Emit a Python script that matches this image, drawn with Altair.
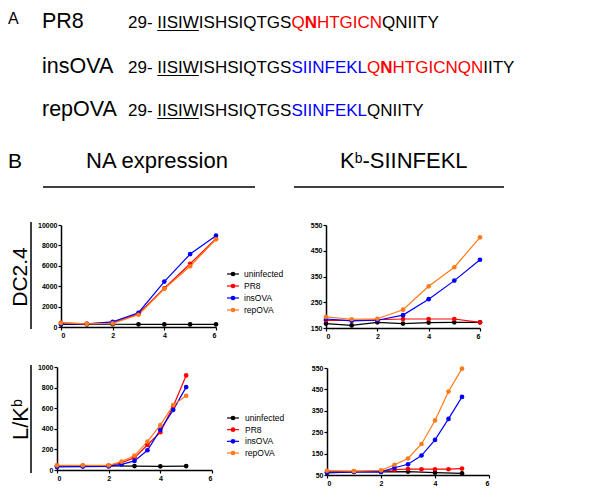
import altair as alt
import pandas as pd

FONT = "Liberation Sans"
SERIES = ["uninfected", "PR8", "insOVA", "repOVA"]
COLORS = ["#000000", "#ff0000", "#0000ff", "#ff7a1a"]

# ---- data ----
days_top = [0, 1, 2, 3, 4, 5, 6]
days_bot = [0, 1, 2, 2.5, 3, 3.5, 4, 4.5, 5]
days_bot_uninf = [0, 1, 2, 3, 4, 5]

na_dc_uninf = [250, 260, 270, 260, 250, 250, 260]
na_dc_pr8 = [400, 300, 400, 1300, 3800, 6200, 8650]
na_dc_ins = [300, 300, 500, 1400, 4450, 7150, 8950]
na_dc_rep = [400, 300, 350, 1200, 3750, 5950, 8600]

kb_dc_uninf = [167, 160, 172, 167, 171, 172, 172]
kb_dc_pr8 = [180, 180, 182, 185, 185, 185, 172]
kb_dc_ins = [185, 178, 180, 200, 262, 334, 415]
kb_dc_rep = [193, 184, 186, 221, 312, 386, 502]

na_lk_uninf = [40, 40, 40, 38, 36, 38]
na_lk_pr8 = [40, 40, 40, 70, 120, 243, 367, 620, 918]
na_lk_ins = [30, 33, 35, 55, 88, 192, 390, 584, 805]
na_lk_rep = [45, 45, 45, 81, 140, 276, 435, 630, 721]

kb_lk_uninf = [60, 65, 65, 66, 61, 58]
kb_lk_pr8 = [65, 67, 68, 75, 78, 77, 77, 77, 80]
kb_lk_ins = [62, 65, 65, 84, 100, 141, 214, 312, 415]
kb_lk_rep = [70, 68, 72, 98, 127, 195, 305, 440, 547]

x_ticks = [0, 2, 4, 6]
yt_na_dc = [0, 2000, 4000, 6000, 8000, 10000]
yt_kb_dc = [150, 250, 350, 450, 550]
yt_na_lk = [0, 200, 400, 600, 800, 1000]
yt_kb_lk = [50, 150, 250, 350, 450, 550]

# sequences: (text, colour, weight, underline)
K, R, B = "black", "#ff0000", "#0000ff"
seq_pr8 = [("29- ", K, "normal", False), ("IISIW", K, "normal", True), ("ISHSIQTGS", K, "normal", False),
           ("Q", R, "normal", False), ("N", R, "bold", False), ("HTGICN", R, "normal", False),
           ("QNIITY", K, "normal", False)]
seq_ins = [("29- ", K, "normal", False), ("IISIW", K, "normal", True), ("ISHSIQTGS", K, "normal", False),
           ("SIINFEKL", B, "normal", False), ("Q", R, "normal", False), ("N", R, "bold", False),
           ("HTGICNQN", R, "normal", False), ("IITY", K, "normal", False)]
seq_rep = [("29- ", K, "normal", False), ("IISIW", K, "normal", True), ("ISHSIQTGS", K, "normal", False),
           ("SIINFEKL", B, "normal", False), ("QNIITY", K, "normal", False)]
virus_names = ["PR8", "insOVA", "repOVA"]

W, H = 586, 477

# Arial / Liberation Sans advance widths (per 1000 em)
ADV = {'2': 556, '9': 556, '-': 333, ' ': 278, 'I': 278, 'S': 667, 'W': 944, 'H': 722, 'Q': 778,
       'T': 611, 'G': 778, 'N': 722, 'C': 722, 'F': 611, 'E': 667, 'K': 667, 'L': 556, 'Y': 667,
       '/': 278, 'b': 556}


def tw(s, size):
    return sum(ADV.get(c, 600) for c in s) * size / 1000.0


def txt(s, x, y, size, color="black", weight="normal", align="left", baseline="alphabetic", angle=0):
    return alt.Chart(pd.DataFrame({"t": [s]})).mark_text(
        align=align, baseline=baseline, fontSize=size, font=FONT, color=color,
        fontWeight=weight, angle=angle).encode(text="t:N", x=alt.value(x), y=alt.value(y))


def hline(x1, x2, y, w=1.5):
    return alt.Chart(pd.DataFrame({"a": [0]})).mark_rule(color="black", strokeWidth=w).encode(
        x=alt.value(x1), x2=alt.value(x2), y=alt.value(y))


def vline(x, y1, y2, w=1.5):
    return alt.Chart(pd.DataFrame({"a": [0]})).mark_rule(color="black", strokeWidth=w).encode(
        x=alt.value(x), y=alt.value(y1), y2=alt.value(y2))


def make_df(days_u, days_o, vals):
    rows = []
    for s, v in zip(SERIES, vals):
        dd = days_u if s == "uninfected" else days_o
        for d, val in zip(dd, v):
            rows.append({"day": d, "value": val, "series": s})
    return pd.DataFrame(rows)


def panel(df, xr, yr, ydom, yticks):
    ax_style = dict(labelFontSize=7, labelFontWeight="bold", labelFont=FONT, labelColor="black",
                    domainColor="black", domainWidth=1.5, tickColor="black", tickWidth=1.2,
                    tickSize=3, grid=False, title=None, labelPadding=1)
    x = alt.X("day:Q", scale=alt.Scale(domain=[0, 6], range=xr, nice=False, zero=False),
              axis=alt.Axis(orient="bottom", offset=yr[0] - H, values=x_ticks, format="d", **ax_style))
    y = alt.Y("value:Q", scale=alt.Scale(domain=ydom, range=yr, nice=False, zero=False),
              axis=alt.Axis(orient="left", offset=-xr[0], values=yticks, format="d", **ax_style))
    color = alt.Color("series:N", scale=alt.Scale(domain=SERIES, range=COLORS), legend=None)
    base = alt.Chart(df)
    lines = base.mark_line(strokeWidth=1.2).encode(x=x, y=y, color=color, order="day:Q")
    pts = base.mark_point(filled=True, size=22, opacity=1).encode(x=x, y=y, color=color)
    return alt.layer(lines, pts)


def legend(yr, xs, xp, xe, xt):
    ldf = pd.DataFrame({"series": SERIES})
    y = alt.Y("series:N", scale=alt.Scale(type="point", domain=SERIES, range=yr, padding=0), axis=None)
    color = alt.Color("series:N", scale=alt.Scale(domain=SERIES, range=COLORS), legend=None)
    base = alt.Chart(ldf)
    r = base.mark_rule(strokeWidth=1.2).encode(x=alt.value(xs), x2=alt.value(xe), y=y, color=color)
    p = base.mark_point(filled=True, size=22, opacity=1).encode(x=alt.value(xp), y=y, color=color)
    t = base.mark_text(align="left", baseline="middle", fontSize=8.5, font=FONT, color="black").encode(
        x=alt.value(xt), y=y, text="series:N")
    return alt.layer(r, p, t)


layers = []

# ---- panel A ----
layers.append(txt("A", 0, 16, 16))
row_base = [20, 65, 108]
for name, yb, seq in zip(virus_names, row_base, [seq_pr8, seq_ins, seq_rep]):
    layers.append(txt(name, 34, yb, 21.5))
    xpos = 120.0
    for s, col, wt, ul in seq:
        layers.append(txt(s, xpos, yb, 17, color=col, weight=wt))
        w = tw(s, 17)
        if ul:
            layers.append(hline(xpos, xpos + w, yb + 2.5, w=1.2))
        xpos += w

# ---- panel B headers ----
layers.append(txt("B", 0, 160, 21))
layers.append(txt("NA expression", 149, 160, 22, align="center"))
layers.append(hline(35, 247, 179))
kx = 332
layers.append(txt("K", kx, 160, 22))
layers.append(txt("b", kx + tw("K", 22), 155, 14))
layers.append(txt("-SIINFEKL", kx + tw("K", 22) + tw("b", 14), 160, 22))
layers.append(hline(286, 496, 179))

# y labels
layers.append(vline(23, 214, 321))
layers.append(txt("DC2.4", 19, 269, 21, align="center", angle=270))
layers.append(vline(23, 357, 465))
layers.append(txt("L/K", 20, 432, 22, angle=270))
layers.append(txt("b", 14, 432 - tw("L/K", 22), 14, angle=270))

# ---- plots ----
layers.append(panel(make_df(days_top, days_top, [na_dc_uninf, na_dc_pr8, na_dc_ins, na_dc_rep]),
                    [53, 208], [319, 217], [0, 10000], yt_na_dc))
layers.append(panel(make_df(days_top, days_top, [kb_dc_uninf, kb_dc_pr8, kb_dc_ins, kb_dc_rep]),
                    [318, 472], [320, 217], [150, 550], yt_kb_dc))
layers.append(panel(make_df(days_bot_uninf, days_bot, [na_lk_uninf, na_lk_pr8, na_lk_ins, na_lk_rep]),
                    [49, 204], [462, 359], [0, 1000], yt_na_lk))
layers.append(panel(make_df(days_bot_uninf, days_bot, [kb_lk_uninf, kb_lk_pr8, kb_lk_ins, kb_lk_rep]),
                    [319, 481], [467, 360], [50, 550], yt_kb_lk))

layers.append(legend([266, 302], 219, 225, 231, 236))
layers.append(legend([410, 445], 219, 225, 231, 237))

chart = alt.layer(*layers).resolve_scale(
    x="independent", y="independent"
).resolve_axis(
    x="independent", y="independent"
).properties(width=W, height=H, padding=0).configure_view(stroke=None)

chart.save("out.html", embed_options={"renderer": "svg", "actions": False})
